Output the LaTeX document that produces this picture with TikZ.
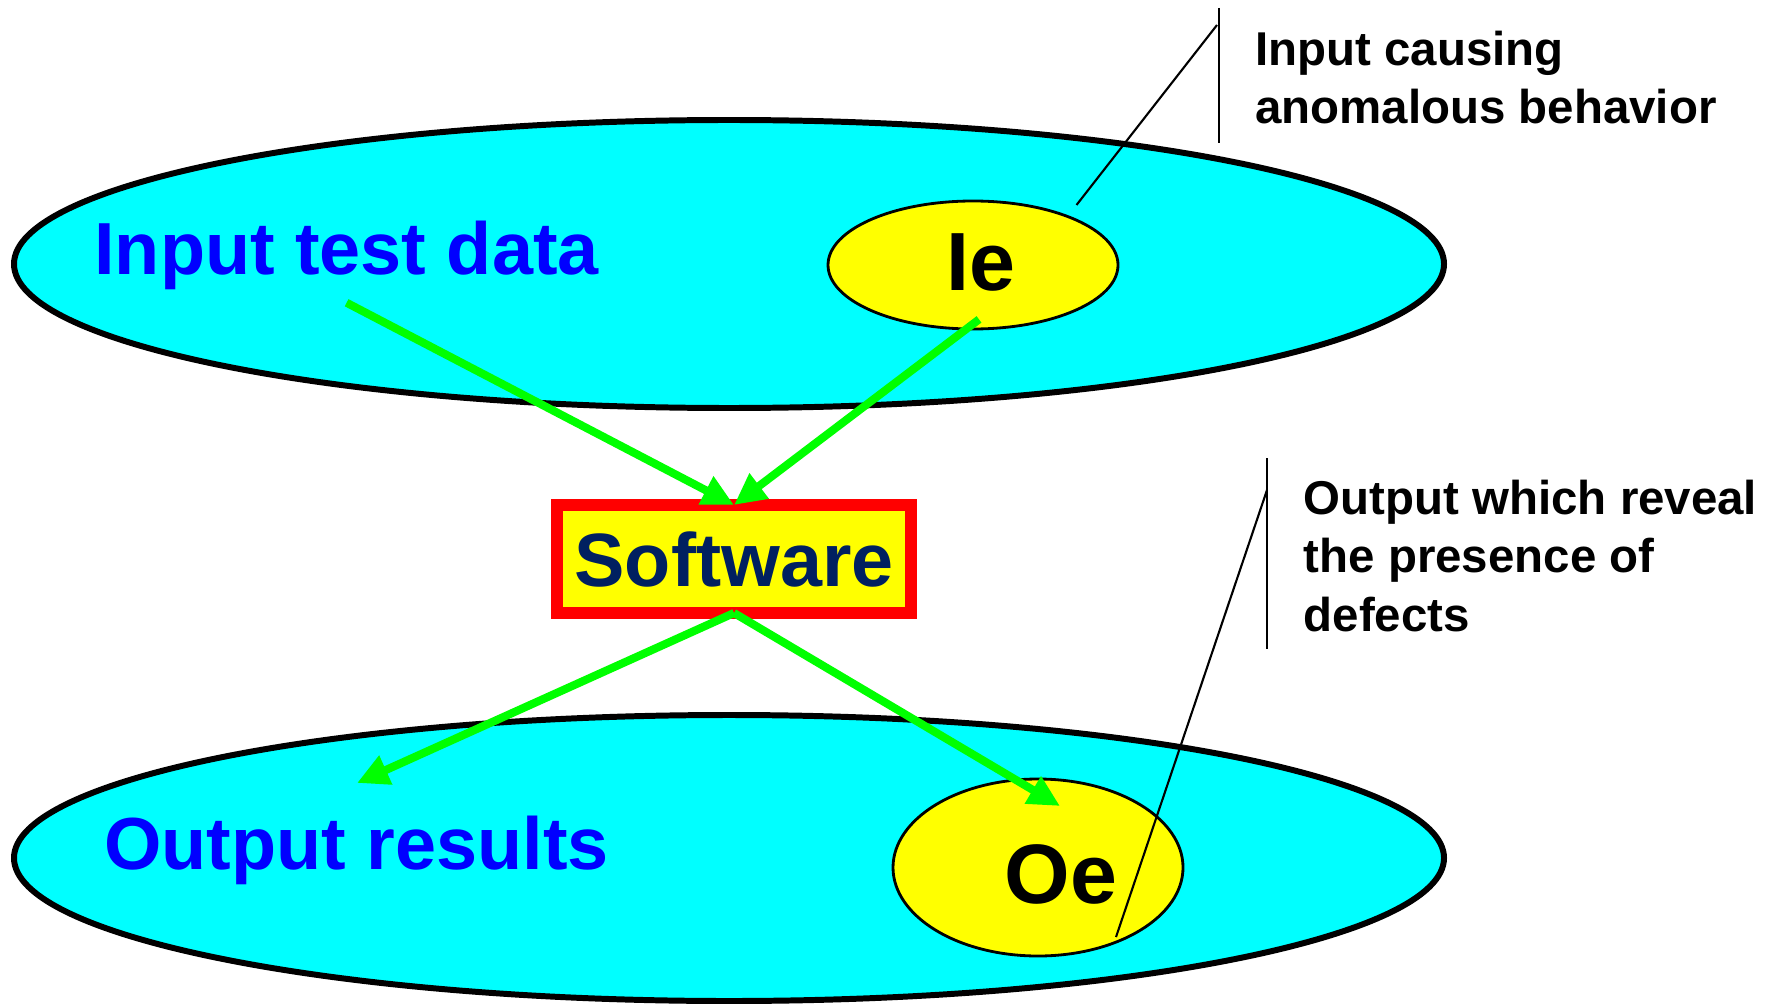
\documentclass[tikz,border=0pt]{standalone}
\usepackage{fontspec}
\setmainfont{Liberation Sans}
\usetikzlibrary{shapes.geometric,arrows.meta}
\definecolor{setcyan}{RGB}{0,255,255}
\definecolor{hotyellow}{RGB}{255,255,0}
\definecolor{labelblue}{RGB}{0,0,255}
\definecolor{flowgreen}{RGB}{0,255,0}
\definecolor{boxred}{RGB}{255,0,0}
\definecolor{swnavy}{RGB}{0,32,96}
\tikzset{
  bigblob/.style={ellipse, draw, line width=1.7pt, fill=setcyan, minimum width=14.3cm, inner sep=0pt},
  smallblob/.style={ellipse, draw, line width=0.8pt, fill=hotyellow, minimum width=2.9cm, inner sep=0pt},
  flow/.style={draw=flowgreen, line width=2.3pt, -{Triangle[length=9pt,width=8.5pt]}},
  pin/.style={line width=0.6pt},
  bluetxt/.style={text=labelblue, font=\fontsize{21}{25}\selectfont\bfseries, anchor=base west},
  notetxt/.style={font=\fontsize{13.5}{16.6}\selectfont\bfseries, align=left, anchor=base west, inner sep=0pt}
}
\begin{document}
\begin{tikzpicture}
    \useasboundingbox (0,0) rectangle (17.79,10.04);

    % the two sets
    \node[bigblob, minimum height=2.88cm] (inset) at (7.29,7.40) {};
    \node[bigblob, minimum height=2.86cm] (outset) at (7.29,1.46) {};
    \node[smallblob, minimum height=1.28cm] (ie) at (9.73,7.39) {};
    \node[smallblob, minimum height=1.77cm] (oe) at (10.38,1.365) {};

    \node[bluetxt] (intext) at (0.82,7.29) {Input test data};
    \node[bluetxt] (outtext) at (0.92,1.35) {Output results};
    \node[anchor=base, font=\fontsize{23.5}{28}\selectfont\bfseries] (ietext) at (9.81,7.13) {Ie};
    \node[anchor=base, font=\fontsize{24}{28}\selectfont\bfseries] (oetext) at (10.61,1.01) {Oe};

    \node[draw=boxred, line width=3.4pt, fill=hotyellow, minimum width=3.54cm, minimum height=1.08cm,
          outer sep=0pt, text=swnavy, font=\fontsize{21.5}{26}\selectfont\bfseries] (sw) at (7.34,4.45) {Software};

    % flows through the software
    \coordinate (restip) at (3.57,2.21);
    \coordinate (oetip) at (10.60,1.98);
    \draw[flow] (intext.south) -- (sw.north);
    \draw[flow] ([shift={(0.06,0.11)}]ie.south) -- (sw.north);
    \draw[flow] (sw.south) -- (restip);
    \draw[flow] (sw.south) -- (oetip);

    % callouts
    \node[notetxt] (note1) at (12.545,8.80) {Input causing\\anomalous behavior};
    \node[notetxt] (note2) at (13.03,3.73) {Output which reveal\\the presence of\\defects};
    \coordinate (bar1top) at (12.19,9.96);
    \coordinate (bar1bot) at (12.19,8.61);
    \coordinate (knee1) at (12.17,9.79);
    \coordinate (iepin) at (10.765,7.99);
    \coordinate (bar2top) at (12.67,5.46);
    \coordinate (bar2bot) at (12.67,3.55);
    \coordinate (knee2) at (12.67,5.14);
    \coordinate (oepin) at (11.16,0.67);
    \draw[pin] (bar1top) -- (bar1bot);
    \draw[pin] (knee1) -- (iepin);
    \draw[pin] (bar2top) -- (bar2bot);
    \draw[pin] (knee2) -- (oepin);
\end{tikzpicture}
\end{document}
